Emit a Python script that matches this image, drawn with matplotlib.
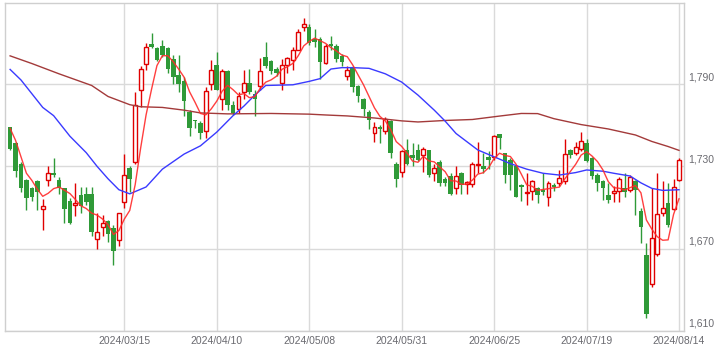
import matplotlib
matplotlib.use("Agg")
import matplotlib.pyplot as plt
import matplotlib.transforms as mtransforms
import numpy as np
import pandas as pd

# ---- data ----
opens = [1759, 1747, 1732, 1720, 1714, 1719, 1699, 1720, 1725, 1720,
         1714, 1705, 1702, 1709, 1710, 1710, 1677, 1686, 1690, 1685,
         1676, 1704, 1728.5, 1733, 1786, 1805, 1819, 1816.5, 1818, 1816,
         1808, 1797, 1792, 1770, 1763.7, 1762, 1756, 1790, 1804, 1779,
         1799.5, 1775, 1772, 1784, 1790.5, 1783, 1788.5, 1810, 1807, 1801,
         1791, 1804, 1807.5, 1815, 1832, 1832, 1823, 1823, 1805.5, 1819.5,
         1817.7, 1810.5, 1796, 1802, 1788.5, 1779.5, 1770, 1754, 1759, 1756,
         1763, 1732, 1725.6, 1742, 1738.5, 1742, 1738, 1742, 1725, 1733.5,
         1720.5, 1723, 1714, 1725, 1717.5, 1717, 1731, 1730, 1736.5, 1736.6,
         1753.4, 1739.5, 1734.7, 1730, 1716.4, 1710.4, 1712, 1714, 1713, 1708,
         1716.4, 1717.6, 1719, 1742, 1739.5, 1743, 1747, 1736, 1724, 1719,
         1709, 1710.5, 1712, 1714, 1713, 1719, 1697.7, 1665.4, 1644, 1666,
         1696, 1703, 1699, 1720]
highs = [1759, 1748, 1733, 1721, 1715, 1720, 1706, 1730, 1736, 1722,
         1714, 1707, 1718, 1715, 1715, 1715, 1696, 1694.5, 1691, 1687,
         1696, 1739, 1730, 1784, 1803, 1820, 1827, 1817, 1822, 1817,
         1811, 1811, 1795, 1771, 1764, 1763, 1788, 1807.5, 1813.5, 1801,
         1800, 1778, 1784, 1800, 1800.7, 1786, 1809, 1821, 1807.5, 1802.6,
         1808, 1810, 1817, 1830.5, 1838, 1834, 1830.5, 1824, 1819.6, 1825,
         1819, 1812, 1803, 1803, 1789, 1780, 1771, 1762.5, 1760, 1766,
         1764, 1733, 1742, 1750, 1747, 1746, 1744, 1742, 1732, 1735,
         1722, 1725, 1730, 1726, 1719, 1733.5, 1748, 1740, 1741, 1753,
         1753.5, 1740, 1736, 1731, 1717, 1725, 1720, 1715, 1725, 1719,
         1718, 1727.5, 1750, 1742.5, 1748, 1755, 1750, 1737, 1725, 1720,
         1717.6, 1716, 1722.5, 1725, 1724, 1720, 1699.4, 1674.4, 1714, 1725,
         1719, 1717.6, 1721, 1736]
lows = [1742, 1722, 1711, 1698, 1705, 1698, 1684, 1716, 1722, 1710,
        1689, 1688, 1694, 1696, 1702, 1679, 1670, 1679, 1675, 1658,
        1672, 1700, 1711, 1732, 1773.5, 1800, 1816, 1807, 1810, 1798,
        1790, 1784, 1767, 1752, 1757.7, 1750, 1751, 1786, 1785.5, 1771,
        1771, 1767.5, 1768.6, 1779, 1783, 1767, 1786, 1802, 1797.7, 1796,
        1786, 1798, 1800, 1815, 1829, 1818.4, 1817, 1794, 1805, 1815,
        1806, 1803, 1793, 1784, 1777, 1767, 1757, 1748, 1747, 1753.6,
        1736, 1715, 1722, 1731, 1730, 1734, 1726, 1722, 1719, 1716,
        1716, 1709, 1710, 1710, 1710, 1715, 1725, 1725, 1728, 1735,
        1743, 1718, 1713, 1708, 1705, 1702, 1705.5, 1703, 1709, 1701,
        1712, 1716, 1717, 1736, 1738, 1741, 1733, 1721, 1712, 1705.5,
        1703.6, 1704, 1704, 1708, 1711.6, 1694.6, 1674, 1619.3, 1642, 1665,
        1694, 1686, 1698, 1719]
closes = [1743, 1727, 1714, 1707, 1708, 1711, 1701, 1725, 1724, 1714,
          1699, 1689, 1703.5, 1701, 1704, 1682, 1682, 1689, 1681, 1668,
          1696, 1724, 1720.5, 1775, 1801, 1817, 1817, 1807.5, 1811, 1801,
          1795, 1790, 1778, 1758, 1763, 1754, 1785, 1800, 1786, 1799.5,
          1775, 1769, 1781, 1791, 1784.5, 1779, 1799.5, 1803, 1799.5, 1798,
          1804, 1809, 1815, 1828, 1833.5, 1820, 1821, 1806, 1818, 1818,
          1808, 1806, 1800, 1788, 1781, 1772, 1764, 1758.4, 1757, 1764.5,
          1739.5, 1721, 1741, 1732, 1736, 1735, 1743, 1724, 1728.5, 1717.6,
          1717.6, 1710, 1723, 1716.4, 1718.5, 1732, 1732, 1728, 1735, 1752,
          1751, 1724, 1724, 1708, 1715, 1711.6, 1719, 1709, 1711.5, 1717.6,
          1715, 1721.3, 1739, 1738, 1744.4, 1748.5, 1734, 1723, 1718, 1714,
          1705.5, 1712, 1721, 1711.6, 1722.5, 1713, 1685.6, 1622.2, 1678, 1695,
          1700, 1687, 1715, 1735]

# 5-day MA: first four values (they depend on earlier sessions)
ma5_head = [1757.7, 1749, 1737, 1725]

# 25-day MA read at candle positions
ma25_idx = [0, 2, 6, 8, 11, 14, 16, 18, 20, 22, 25, 28, 32, 35, 38, 41, 43, 45, 47,
            52, 55, 57, 59, 61, 63, 66, 69, 72, 75, 78, 80, 82, 84, 86, 89, 92, 95,
            98, 101, 104, 106, 109, 111, 114, 116, 118, 120, 123]
ma25_val = [1800.7, 1793, 1773, 1767, 1752, 1740, 1730, 1721, 1713, 1710, 1715, 1728,
            1739, 1745, 1755, 1767, 1774, 1782, 1789, 1789.5, 1792, 1794, 1801, 1802,
            1802, 1801.5, 1797.5, 1791.5, 1782, 1771, 1763, 1754, 1748, 1742, 1737,
            1732, 1728, 1725, 1723.7, 1725.5, 1727.4, 1726.5, 1725, 1723, 1718, 1714,
            1712.5, 1713]

# 75-day MA read at candle positions
ma75_idx = [0, 4, 9, 15, 18, 22, 24, 28, 32, 35, 40, 48, 55, 58, 62, 67, 72, 75, 80,
            85, 88, 90, 94, 97, 100, 105, 110, 115, 118, 121, 123]
ma75_val = [1810.6, 1805, 1797.5, 1789, 1781, 1775, 1773.5, 1773, 1771, 1769, 1768.3,
            1768.6, 1768.1, 1767.5, 1766.8, 1765.3, 1763.2, 1762.4, 1763.5, 1764.2,
            1765.7, 1766.7, 1768.6, 1768.5, 1764.8, 1760.5, 1757.3, 1752.9, 1748.2,
            1744.5, 1741.7]

tick_index = [21, 38, 55, 72, 89, 106, 123]
tick_labels = ["2024/03/15", "2024/04/10", "2024/05/08", "2024/05/31",
               "2024/06/25", "2024/07/19", "2024/08/14"]
y_ticks = [1610, 1670, 1730, 1790]

# ---- styling ----
UP = "#e00000"
DOWN = "#2f9a38"
GRID = "#dadada"
TXT = "#6a6a70"

plt.rcParams['font.family'] = ['Liberation Sans', 'DejaVu Sans']

fig = plt.figure(figsize=(7.26, 3.55), dpi=100)
ax = fig.add_axes([5 / 726, 1 - 331 / 355, (684 - 5) / 726, (331 - 2.5) / 355])

o = np.array(opens); h = np.array(highs); l = np.array(lows); c = np.array(closes)
x = np.arange(len(o))
up = c >= o
dn = ~up

# wicks
ax.vlines(x[up], l[up], h[up], color=UP, linewidth=1.0, zorder=2)
ax.vlines(x[dn], l[dn], h[dn], color=DOWN, linewidth=1.0, zorder=2)

# bodies
bh = np.maximum(np.abs(c - o), 0.6)
bb = np.minimum(o, c)
ax.bar(x[dn], bh[dn], bottom=bb[dn], width=0.84, color=DOWN, edgecolor='none', zorder=3)
ax.bar(x[up], bh[up], bottom=bb[up], width=0.72, facecolor='white', edgecolor=UP,
       linewidth=1.0, zorder=3)

# moving averages
ma5 = pd.Series(closes).rolling(5).mean().to_numpy()
ma5[:4] = ma5_head
ax.plot(ma75_idx, ma75_val, color="#a33a3a", linewidth=1.0, zorder=4)
ax.plot(ma25_idx, ma25_val, color="#3a3aff", linewidth=1.0, zorder=4)
ax.plot(x, ma5, color="#ff2a2a", linewidth=1.0, alpha=0.9, zorder=5)

# axes
ax.set_xlim(-0.94, 123.92)
ax.set_ylim(1610, 1849.5)
ax.set_xticks(tick_index)
ax.set_xticklabels(tick_labels)
ax.set_yticks(y_ticks)
ax.set_yticklabels([f"{v:,}" for v in y_ticks])
ax.yaxis.tick_right()
ax.tick_params(axis='both', length=0, labelsize=7.5, labelcolor=TXT)
ax.tick_params(axis='x', pad=3.5)
ax.tick_params(axis='y', pad=3)
offset = mtransforms.ScaledTranslation(0, 1.5 / 72, fig.dpi_scale_trans)
for lab in ax.get_yticklabels():
    lab.set_verticalalignment('bottom')
    lab.set_transform(lab.get_transform() + offset)

ax.grid(True, color=GRID, linewidth=1.0, zorder=0)
ax.set_axisbelow(True)
for s in ax.spines.values():
    s.set_color("#cfcfcf")
    s.set_linewidth(1.0)

fig.savefig("out.png", dpi=100)
